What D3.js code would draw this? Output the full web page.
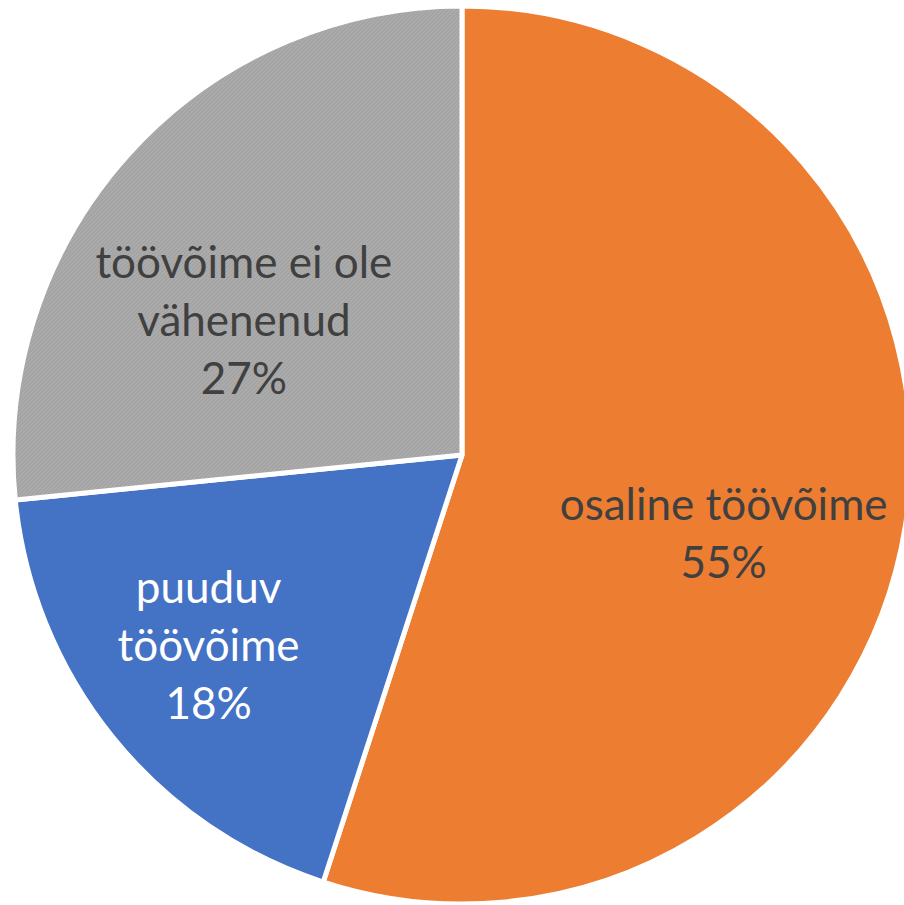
<!DOCTYPE html>
<html>
<head>
<meta charset="utf-8">
<script src="https://cdn.jsdelivr.net/npm/d3@7"></script>
<style>
  body { margin: 0; background: #fff; }
  svg { display: block; }
</style>
</head>
<body>
<script>
// slices in clockwise order from 12 o'clock
const categories = ["osaline töövõime", "puuduv töövõime", "töövõime ei ole vähenenud"];
const labelLines = [["osaline töövõime"], ["puuduv", "töövõime"], ["töövõime ei ole", "vähenenud"]];
const values = [55.0, 18.4, 26.6];
const colors = ["#ED7D31", "#4472C4", "#A5A5A5"];
const textColors = ["#404040", "#ffffff", "#404040"];

const width = 904;
const height = 905;
const cx = 462, cy = 455, radius = 449;
// Excel places its labels a bit irregularly: radius factor + vertical nudge per slice
const labelRadius = [0.59, 0.725, 0.655];
const labelNudge = [38, -13, 63];

const svg = d3.select("body").append("svg")
  .attr("width", width)
  .attr("height", height)
  .attr("viewBox", [0, 0, width, height]);

// fine dotted texture of the grey slice
const defs = svg.append("defs");
const pat = defs.append("pattern")
  .attr("id", "grey-dots")
  .attr("width", 4).attr("height", 4)
  .attr("patternUnits", "userSpaceOnUse");
pat.append("rect").attr("width", 4).attr("height", 4).attr("fill", "#aaaaaa");
[[0, 0], [2, 2], [1, 3], [3, 1]].forEach(([x, y], k) => {
  pat.append("rect").attr("x", x).attr("y", y)
    .attr("width", 1).attr("height", 1)
    .attr("fill", k < 2 ? "#9c9c9c" : "#a2a2a2");
});

const data = categories.map((c, i) => ({ name: c, value: values[i], i }));
const total = d3.sum(values);

const pie = d3.pie().value(d => d.value).sort(null);
const arcs = pie(data);

const arc = d3.arc().innerRadius(0).outerRadius(radius);

const g = svg.append("g").attr("transform", `translate(${cx},${cy})`);

g.selectAll("path")
  .data(arcs)
  .join("path")
  .attr("d", arc)
  .attr("fill", d => d.data.i === 2 ? "url(#grey-dots)" : colors[d.data.i])
  .attr("stroke", "#fff")
  .attr("stroke-width", 5)
  .attr("stroke-linejoin", "round");

const fmt = d3.format(".0%");
const lineH = 58;

const labels = g.selectAll("text")
  .data(arcs)
  .join("text")
  .attr("transform", d => {
    const r = radius * labelRadius[d.data.i];
    const a = d3.arc().innerRadius(r).outerRadius(r);
    const [x, y] = a.centroid(d);
    return `translate(${x},${y + labelNudge[d.data.i]})`;
  })
  .attr("text-anchor", "middle")
  .attr("font-family", "Lato, 'Open Sans', sans-serif")
  .attr("font-size", 44)
  .attr("fill", d => textColors[d.data.i]);

labels.each(function(d) {
  const lines = labelLines[d.data.i].concat([fmt(d.data.value / total)]);
  const t = d3.select(this);
  const y0 = -(lines.length - 1) * lineH / 2 + 15;
  lines.forEach((l, k) => {
    t.append("tspan").attr("x", 0).attr("y", y0 + k * lineH).text(l);
  });
});
</script>
</body>
</html>
